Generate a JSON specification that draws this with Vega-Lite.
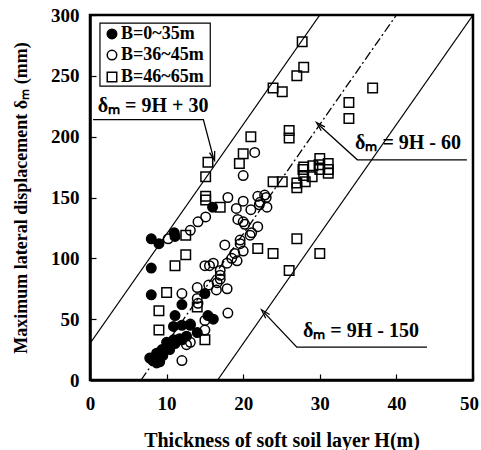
{
 "$schema": "https://vega.github.io/schema/vega-lite/v6.json",
 "width": 383, "height": 365,
 "autosize": {"type": "none"},
 "padding": {"left": 90, "top": 15, "right": 8, "bottom": 70},
 "config": {
  "view": {"stroke": "black", "strokeWidth": 2.5},
  "font": "Liberation Serif"
 },
 "datasets": {
  "pts": [
   {"B":"B=36~45m","H":21.5,"d":187},{"B":"B=36~45m","H":20.0,"d":168},{"B":"B=36~45m","H":18.0,"d":150},{"B":"B=36~45m","H":20.0,"d":147},
   {"B":"B=36~45m","H":21.9,"d":151},{"B":"B=36~45m","H":23.0,"d":150},{"B":"B=36~45m","H":22.8,"d":152},{"B":"B=36~45m","H":22.2,"d":146},
   {"B":"B=36~45m","H":19.1,"d":141},{"B":"B=36~45m","H":21.0,"d":140},{"B":"B=36~45m","H":22.1,"d":144},{"B":"B=36~45m","H":23.1,"d":142},
   {"B":"B=36~45m","H":19.3,"d":132},{"B":"B=36~45m","H":20.0,"d":130},{"B":"B=36~45m","H":20.2,"d":128},{"B":"B=36~45m","H":21.9,"d":126},
   {"B":"B=36~45m","H":21.1,"d":121},{"B":"B=36~45m","H":15.1,"d":134},{"B":"B=36~45m","H":14.1,"d":130},{"B":"B=36~45m","H":13.1,"d":123},
   {"B":"B=36~45m","H":10.2,"d":116},{"B":"B=36~45m","H":19.6,"d":115},{"B":"B=36~45m","H":19.6,"d":112},{"B":"B=36~45m","H":20.9,"d":119},
   {"B":"B=36~45m","H":17.6,"d":111},{"B":"B=36~45m","H":20.0,"d":106},{"B":"B=36~45m","H":18.9,"d":104},{"B":"B=36~45m","H":18.5,"d":100},
   {"B":"B=36~45m","H":19.2,"d":98},{"B":"B=36~45m","H":17.9,"d":96},{"B":"B=36~45m","H":16.1,"d":96},{"B":"B=36~45m","H":15.0,"d":94},
   {"B":"B=36~45m","H":15.6,"d":94},{"B":"B=36~45m","H":17.0,"d":90},{"B":"B=36~45m","H":17.0,"d":86},{"B":"B=36~45m","H":17.0,"d":83},
   {"B":"B=36~45m","H":16.6,"d":80},{"B":"B=36~45m","H":15.5,"d":78},{"B":"B=36~45m","H":16.5,"d":74},{"B":"B=36~45m","H":17.9,"d":75},
   {"B":"B=36~45m","H":14.0,"d":76},{"B":"B=36~45m","H":12.0,"d":71},{"B":"B=36~45m","H":14.0,"d":67},{"B":"B=36~45m","H":18.0,"d":55},
   {"B":"B=36~45m","H":15.0,"d":49},{"B":"B=36~45m","H":15.0,"d":41},{"B":"B=36~45m","H":13.1,"d":46},{"B":"B=36~45m","H":13.1,"d":31},
   {"B":"B=36~45m","H":12.6,"d":29},{"B":"B=36~45m","H":12.0,"d":16},{"B":"B=36~45m","H":14.1,"d":63},
   {"B":"B=46~65m","H":27.7,"d":278},{"B":"B=46~65m","H":27.9,"d":257},{"B":"B=46~65m","H":27.0,"d":250},{"B":"B=46~65m","H":23.9,"d":240},
   {"B":"B=46~65m","H":25.1,"d":237},{"B":"B=46~65m","H":36.9,"d":240},{"B":"B=46~65m","H":33.8,"d":228},{"B":"B=46~65m","H":33.8,"d":215},
   {"B":"B=46~65m","H":26.0,"d":205},{"B":"B=46~65m","H":26.0,"d":199},{"B":"B=46~65m","H":21.0,"d":200},{"B":"B=46~65m","H":20.0,"d":186},
   {"B":"B=46~65m","H":19.5,"d":178},{"B":"B=46~65m","H":15.4,"d":179},{"B":"B=46~65m","H":15.1,"d":167},{"B":"B=46~65m","H":15.1,"d":151},
   {"B":"B=46~65m","H":15.1,"d":148},{"B":"B=46~65m","H":17.0,"d":142},{"B":"B=46~65m","H":12.5,"d":119},{"B":"B=46~65m","H":12.5,"d":103},
   {"B":"B=46~65m","H":11.1,"d":94},{"B":"B=46~65m","H":10.0,"d":72},{"B":"B=46~65m","H":21.9,"d":108},{"B":"B=46~65m","H":23.9,"d":104},
   {"B":"B=46~65m","H":9.0,"d":57},{"B":"B=46~65m","H":9.0,"d":41},{"B":"B=46~65m","H":14.0,"d":60},{"B":"B=46~65m","H":15.0,"d":33},
   {"B":"B=46~65m","H":27.0,"d":116},{"B":"B=46~65m","H":30.0,"d":104},{"B":"B=46~65m","H":26.0,"d":90},{"B":"B=46~65m","H":23.9,"d":163},
   {"B":"B=46~65m","H":25.1,"d":163},{"B":"B=46~65m","H":27.9,"d":175},{"B":"B=46~65m","H":27.9,"d":168},{"B":"B=46~65m","H":29.1,"d":176},
   {"B":"B=46~65m","H":30.0,"d":182},{"B":"B=46~65m","H":31.1,"d":178},{"B":"B=46~65m","H":31.1,"d":173},{"B":"B=46~65m","H":31.1,"d":170},
   {"B":"B=46~65m","H":29.9,"d":177},{"B":"B=46~65m","H":30.0,"d":173},{"B":"B=46~65m","H":29.0,"d":167},{"B":"B=46~65m","H":27.8,"d":173},
   {"B":"B=46~65m","H":27.0,"d":162},{"B":"B=46~65m","H":27.0,"d":158},{"B":"B=46~65m","H":28.1,"d":163},
   {"B":"B=0~35m","H":8.0,"d":116},{"B":"B=0~35m","H":9.0,"d":112},{"B":"B=0~35m","H":11.0,"d":121},{"B":"B=0~35m","H":11.1,"d":118},
   {"B":"B=0~35m","H":8.0,"d":92},{"B":"B=0~35m","H":8.0,"d":70},{"B":"B=0~35m","H":16.0,"d":142},{"B":"B=0~35m","H":12.0,"d":62},
   {"B":"B=0~35m","H":11.1,"d":53},{"B":"B=0~35m","H":15.0,"d":71},{"B":"B=0~35m","H":15.4,"d":53},{"B":"B=0~35m","H":16.1,"d":50},
   {"B":"B=0~35m","H":14.0,"d":39},{"B":"B=0~35m","H":10.9,"d":44},{"B":"B=0~35m","H":12.0,"d":45},{"B":"B=0~35m","H":13.1,"d":45},
   {"B":"B=0~35m","H":10.0,"d":31},{"B":"B=0~35m","H":10.9,"d":33},{"B":"B=0~35m","H":11.7,"d":34},{"B":"B=0~35m","H":12.6,"d":36},
   {"B":"B=0~35m","H":9.4,"d":25},{"B":"B=0~35m","H":8.7,"d":22},{"B":"B=0~35m","H":8.1,"d":18},{"B":"B=0~35m","H":8.7,"d":14},
   {"B":"B=0~35m","H":10.2,"d":27},{"B":"B=0~35m","H":11.1,"d":30},{"B":"B=0~35m","H":12.0,"d":33},{"B":"B=0~35m","H":9.5,"d":20},
   {"B":"B=0~35m","H":8.2,"d":16},{"B":"B=0~35m","H":7.8,"d":18},{"B":"B=0~35m","H":9.1,"d":15},{"B":"B=0~35m","H":10.4,"d":25}
  ],
  "legbox": [{"H":1.3,"H2":15.7,"d":293.4,"d2":241.6}],
  "leg": [
   {"B":"B=0~35m","H":2.87,"d":284.4,"HL":4.05},
   {"B":"B=36~45m","H":2.87,"d":267.1,"HL":4.05},
   {"B":"B=46~65m","H":2.87,"d":249.0,"HL":4.05}
  ],
  "refs": [
   {"id":"a","H":0,"d":30},{"id":"a","H":30,"d":300},
   {"id":"c","H":16.667,"d":0},{"id":"c","H":50,"d":300}
  ],
  "ref2": [{"id":"b","H":6.667,"d":0},{"id":"b","H":40,"d":300}],
  "leaders": [
   {"id":"1","o":1,"H":0.4,"d":214},{"id":"1","o":2,"H":14.8,"d":214},{"id":"1","o":3,"H":16.1,"d":183},
   {"id":"2","o":1,"H":30.0,"d":209},{"id":"2","o":2,"H":34.9,"d":181},{"id":"2","o":3,"H":49.2,"d":181},
   {"id":"3","o":1,"H":22.8,"d":55},{"id":"3","o":2,"H":27.0,"d":27},{"id":"3","o":3,"H":44.0,"d":27}
  ],
  "tips": [
   {"H":16.1,"d":184,"ang":164},{"H":30.0,"d":209,"ang":313},{"H":22.8,"d":55,"ang":317}
  ],
  "labels": [
   {"t":"δₘ = 9H + 30","H":1.0,"d":220},
   {"t":"δₘ = 9H - 60","H":34.6,"d":190},
   {"t":"δₘ = 9H - 150","H":27.8,"d":35}
  ]
 },
 "layer": [
  {
   "data": {"name": "refs"},
   "mark": {"type": "line", "color": "black", "strokeWidth": 1.3},
   "encoding": {
    "x": {"field": "H", "type": "quantitative", "scale": {"domain": [0, 50], "nice": false},
     "axis": {"values": [0,5,10,15,20,25,30,35,40,45,50], "labelExpr": "datum.value % 10 === 0 ? datum.label : ''",
      "tickSize": -6, "tickWidth": 1.2, "tickColor": "black", "domainColor": "black", "domainWidth": 2.5, "grid": false,
      "labelFont": "Liberation Serif", "labelFontSize": 19, "labelFontWeight": "bold", "labelColor": "black", "labelPadding": 20,
      "labelOffset": {"condition": {"test": "datum.value === 50", "value": -4}, "value": 0},
      "labelFlush": false, "labelOverlap": false,
      "title": "Thickness of soft soil layer H(m)", "titleFont": "Liberation Serif", "titleFontSize": 20, "titleFontWeight": "bold", "titleColor": "black", "titlePadding": 17}},
    "y": {"field": "d", "type": "quantitative", "scale": {"domain": [0, 300], "nice": false},
     "axis": {"values": [0,50,100,150,200,250,300], "tickSize": -6, "tickWidth": 1.2, "tickColor": "black", "domainColor": "black", "domainWidth": 2.5, "grid": false,
      "labelFont": "Liberation Serif", "labelFontSize": 19, "labelFontWeight": "bold", "labelColor": "black", "labelPadding": 17,
      "labelFlush": false, "labelOverlap": false,
      "title": "Maximum lateral displacement δₘ (mm)", "titleFont": "Liberation Serif", "titleFontSize": 18, "titleFontWeight": "bold", "titleColor": "black", "titlePadding": 20}},
    "detail": {"field": "id"}
   }
  },
  {
   "data": {"name": "ref2"},
   "mark": {"type": "line", "color": "black", "strokeWidth": 1.3, "strokeDash": [9, 3, 2, 3]},
   "encoding": {"x": {"field": "H", "type": "quantitative"}, "y": {"field": "d", "type": "quantitative"}}
  },
  {
   "data": {"name": "leaders"},
   "mark": {"type": "line", "color": "black", "strokeWidth": 1.3},
   "encoding": {"x": {"field": "H", "type": "quantitative"}, "y": {"field": "d", "type": "quantitative"}, "detail": {"field": "id"}, "order": {"field": "o"}}
  },
  {
   "data": {"name": "tips"},
   "mark": {"type": "point", "shape": "M -0.6 1 L 0 -1 L 0.6 1", "filled": false, "stroke": "black", "strokeWidth": 1.3, "size": 80, "opacity": 1},
   "encoding": {"x": {"field": "H", "type": "quantitative"}, "y": {"field": "d", "type": "quantitative"}, "angle": {"field": "ang", "type": "quantitative", "scale": null}}
  },
  {
   "data": {"name": "labels"},
   "mark": {"type": "text", "align": "left", "baseline": "alphabetic", "font": "Liberation Serif", "fontSize": 20, "fontWeight": "bold", "color": "black"},
   "encoding": {"x": {"field": "H", "type": "quantitative"}, "y": {"field": "d", "type": "quantitative"}, "text": {"field": "t"}}
  },
  {
   "data": {"name": "pts"},
   "mark": {"type": "point", "stroke": "black", "strokeWidth": 1.5, "size": 90, "opacity": 1},
   "encoding": {
    "x": {"field": "H", "type": "quantitative"},
    "y": {"field": "d", "type": "quantitative"},
    "fill": {"field": "B", "type": "nominal", "scale": {"domain": ["B=0~35m","B=36~45m","B=46~65m"], "range": ["black","transparent","transparent"]}, "legend": null},
    "shape": {"field": "B", "type": "nominal", "scale": {"domain": ["B=0~35m","B=36~45m","B=46~65m"], "range": ["circle","circle","square"]}, "legend": null}
   }
  },
  {
   "data": {"name": "legbox"},
   "mark": {"type": "rect", "fill": "white", "stroke": "black", "strokeWidth": 1.2},
   "encoding": {"x": {"field": "H", "type": "quantitative"}, "x2": {"field": "H2"}, "y": {"field": "d", "type": "quantitative"}, "y2": {"field": "d2"}}
  },
  {
   "data": {"name": "leg"},
   "mark": {"type": "point", "stroke": "black", "strokeWidth": 1.5, "size": 90, "opacity": 1},
   "encoding": {
    "x": {"field": "H", "type": "quantitative"},
    "y": {"field": "d", "type": "quantitative"},
    "fill": {"field": "B", "type": "nominal", "legend": null},
    "shape": {"field": "B", "type": "nominal", "legend": null}
   }
  },
  {
   "data": {"name": "leg"},
   "mark": {"type": "text", "align": "left", "baseline": "middle", "font": "Liberation Serif", "fontSize": 18, "fontWeight": "bold", "color": "black"},
   "encoding": {"x": {"field": "HL", "type": "quantitative"}, "y": {"field": "d", "type": "quantitative"}, "text": {"field": "B"}}
  }
 ]
}
